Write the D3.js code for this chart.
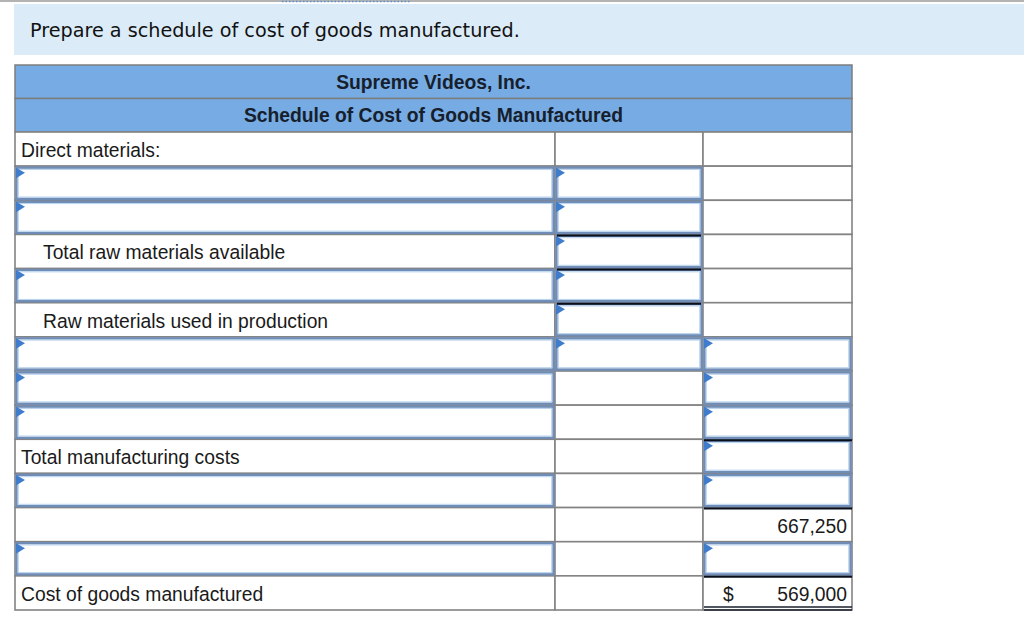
<!DOCTYPE html>
<html><head><meta charset="utf-8">
<script src="https://cdn.jsdelivr.net/npm/d3@7"></script>
<style>html,body{margin:0;padding:0;background:#fff;overflow:hidden}</style>
</head><body>
<svg id="c" width="1024" height="626"></svg>
<script>
const promptText = "Prepare a schedule of cost of goods manufactured.";
const headerLines = ["Supreme Videos, Inc.", "Schedule of Cost of Goods Manufactured"];
// label, indent (0/1), cell types for col1..col3: 'p' plain, 'i' input
const rowLabels = ["Direct materials:", "", "", "Total raw materials available", "", "Raw materials used in production", "", "", "", "Total manufacturing costs", "", "", "", "Cost of goods manufactured"];
const rowIndent = [0,0,0,1,0,1,0,0,0,0,0,0,0,0];
const col1Type = ["p","i","i","p","i","p","i","i","i","p","i","p","i","p"];
const col2Type = ["p","i","i","i","i","i","i","p","p","p","p","p","p","p"];
const col3Type = ["p","p","p","p","p","p","i","i","i","i","i","p","i","p"];
const totalLineCol2 = [3,4,5];
const totalLineCol3 = [9,11,13];
const col3Values = ["","","","","","","","","","","","667,250","","569,000"];
const col3Currency = ["","","","","","","","","","","","","","$"];

const svg = d3.select("#c");
const W = 1024;

// top rule + banner
svg.append("line").attr("x1",0).attr("x2",W).attr("y1",1).attr("y2",1).attr("stroke","#9a9a9a").attr("stroke-width",1.5);
svg.append("line").attr("x1",282).attr("x2",410).attr("y1",1.5).attr("y2",1.5).attr("stroke","#5a8fd0").attr("stroke-width",1.5).attr("stroke-dasharray","1.5,2");
svg.append("rect").attr("x",14).attr("y",4).attr("width",W-14).attr("height",51).attr("fill","#dbebf8");
svg.append("text").attr("x",30).attr("y",37).attr("font-family","DejaVu Sans, Verdana, sans-serif").attr("font-size",19.2).attr("fill","#111").text(promptText);

// table geometry via scales
const colEdges = [15,555,703,852];
const xCol = d3.scaleOrdinal().domain([0,1,2]).range(colEdges.slice(0,3));
const colW = i => colEdges[i+1]-colEdges[i];
const headTop = 65, headH = 33.5;
const rowsTop = 132, rowsBottom = 610;
const y = d3.scaleBand().domain(d3.range(rowLabels.length)).range([rowsTop, rowsBottom]).paddingInner(0);
const rh = y.bandwidth();

const tFont = "Liberation Sans, Arial, sans-serif";
const fs = 19.3;

// header
const hg = svg.append("g");
headerLines.forEach((t,i)=>{
  hg.append("rect").attr("x",colEdges[0]).attr("y",headTop+i*headH).attr("width",colEdges[3]-colEdges[0]).attr("height",headH)
    .attr("fill","#76abe3").attr("stroke","#7d7d7d").attr("stroke-width",1.5);
  hg.append("text").attr("x",(colEdges[0]+colEdges[3])/2).attr("y",headTop+i*headH+23.5).attr("text-anchor","middle")
    .attr("font-family",tFont).attr("font-weight","bold").attr("font-size",fs).attr("fill","#16202c").text(t);
});

// body cells
const types = [col1Type,col2Type,col3Type];
const body = svg.append("g");
rowLabels.forEach((lab,r)=>{
  for(let c=0;c<3;c++){
    body.append("rect").attr("x",xCol(c)).attr("y",y(r)).attr("width",colW(c)).attr("height",rh)
      .attr("fill","#fff").attr("stroke","#838383").attr("stroke-width",1.6);
  }
});
// inputs
rowLabels.forEach((lab,r)=>{
  for(let c=0;c<3;c++){
    if(types[c][r]!=="i") continue;
    const x0 = xCol(c), y0 = y(r), w = colW(c);
    body.append("rect").attr("x",x0+1.5).attr("y",y0+1.5).attr("width",w-3).attr("height",rh-3)
      .attr("fill","#fff").attr("stroke","#6f8db6").attr("stroke-width",2.4);
    body.append("rect").attr("x",x0+3.3).attr("y",y0+3.3).attr("width",w-6.6).attr("height",rh-6.6)
      .attr("fill","none").attr("stroke","#b8d3ef").attr("stroke-width",1);
    body.append("path").attr("d",`M${x0+1},${y0+1.5} L${x0+10},${y0+6.5} L${x0+1},${y0+12} Z`).attr("fill","#3f7ccb");
  }
});
// total lines (black rules)
totalLineCol2.forEach(r=>{
  body.append("line").attr("x1",xCol(1)+2).attr("x2",xCol(1)+colW(1)-2).attr("y1",y(r)+1).attr("y2",y(r)+1).attr("stroke","#0a0f1c").attr("stroke-width",2);
});
totalLineCol3.forEach(r=>{
  body.append("line").attr("x1",xCol(2)+1).attr("x2",xCol(2)+colW(2)).attr("y1",y(r)+1).attr("y2",y(r)+1).attr("stroke","#0a0f1c").attr("stroke-width",2);
});
// double underline on final
const lastR = rowLabels.length-1;
[rh-3, rh].forEach(dy=>{
  body.append("line").attr("x1",xCol(2)+1).attr("x2",xCol(2)+colW(2)).attr("y1",y(lastR)+dy).attr("y2",y(lastR)+dy).attr("stroke","#1a1f2a").attr("stroke-width",1.5);
});

// labels
rowLabels.forEach((lab,r)=>{
  if(!lab) return;
  body.append("text").attr("x",xCol(0)+(rowIndent[r]?28:6)).attr("y",y(r)+25).attr("font-family",tFont).attr("font-size",fs).attr("fill","#1a1a1a").text(lab);
});
col3Values.forEach((v,r)=>{
  if(!v) return;
  body.append("text").attr("x",xCol(2)+colW(2)-5).attr("y",y(r)+25).attr("text-anchor","end").attr("font-family",tFont).attr("font-size",fs).attr("fill","#1a1a1a").text(v);
  if(col3Currency[r]) body.append("text").attr("x",xCol(2)+20).attr("y",y(r)+25).attr("font-family",tFont).attr("font-size",fs).attr("fill","#1a1a1a").text(col3Currency[r]);
});
</script>
</body></html>
